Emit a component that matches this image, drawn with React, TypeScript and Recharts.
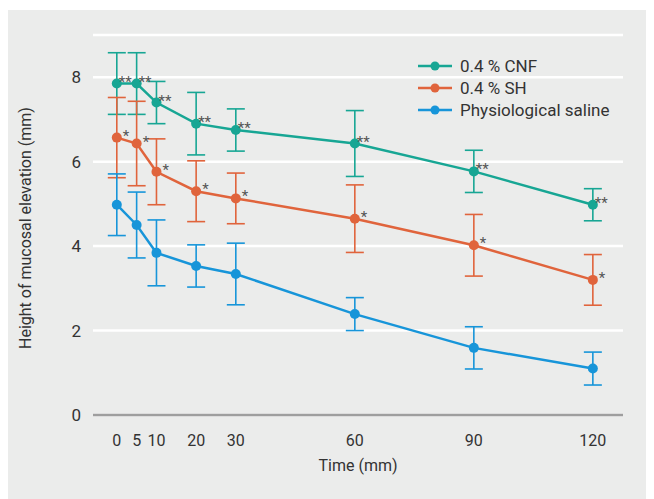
import { LineChart, Line, XAxis, YAxis, CartesianGrid, ErrorBar, Legend, LabelList } from 'recharts';

// time points (x axis)
const times = [0, 5, 10, 20, 30, 60, 90, 120];
const xTicks = [0, 5, 10, 20, 30, 60, 90, 120];
const yTicks = [0, 2, 4, 6, 8];

// means and error (SD) per group
const cnf = [7.85, 7.85, 7.4, 6.9, 6.75, 6.43, 5.77, 4.98];
const cnfErr = [0.73, 0.73, 0.5, 0.74, 0.5, 0.78, 0.5, 0.38];
const sh = [6.57, 6.43, 5.76, 5.3, 5.13, 4.65, 4.02, 3.2];
const shErr = [0.95, 1.0, 0.78, 0.72, 0.6, 0.8, 0.73, 0.6];
const saline = [4.98, 4.5, 3.84, 3.53, 3.34, 2.39, 1.59, 1.1];
const salineErr = [0.73, 0.78, 0.78, 0.5, 0.73, 0.39, 0.5, 0.39];

const cnfSig = ['**', '**', '**', '**', '**', '**', '**', '**'];
const shSig = ['*', '*', '*', '*', '*', '*', '*', '*'];

const series = [
  { key: 'cnf', name: '0.4 % CNF', color: '#17a694' },
  { key: 'sh', name: '0.4 % SH', color: '#e0643c' },
  { key: 'saline', name: 'Physiological saline', color: '#1795d9' },
];

const data = times.map((t, i) => ({
  time: t,
  cnf: cnf[i],
  cnfErr: cnfErr[i],
  cnfSig: cnfSig[i],
  sh: sh[i],
  shErr: shErr[i],
  shSig: shSig[i],
  saline: saline[i],
  salineErr: salineErr[i],
}));

const FONT = 'Roboto, "Noto Sans", sans-serif';

const SigLabel = (props: any) => {
  const { x, y, value } = props;
  if (!value) return null;
  const dx = value === '**' ? 2 : 6;
  return (
    <text x={x + dx} y={y + 3} fill="#555" fontSize={15} fontFamily={FONT} textAnchor="start">
      {value}
    </text>
  );
};

const LegendContent = () => (
  <div style={{ fontFamily: FONT, fontSize: 17, color: '#333', lineHeight: '22px' }}>
    {series.map((s) => (
      <div key={s.key} style={{ display: 'flex', alignItems: 'center' }}>
        <svg width={36} height={22}>
          <line x1={0} y1={11} x2={34} y2={11} stroke={s.color} strokeWidth={2.5} />
          <circle cx={17} cy={11} r={4.5} fill={s.color} />
        </svg>
        <span style={{ marginLeft: 6 }}>{s.name}</span>
      </div>
    ))}
  </div>
);

export default function App() {
  return (
    <div style={{ width: 646, height: 489, marginTop: 2, background: '#ebeceb' }}>
      <LineChart width={646} height={489} data={data} margin={{ top: 25, right: 31, left: 25, bottom: 30 }}>
        <CartesianGrid horizontal vertical={false} stroke="#ffffff" strokeWidth={2.5} />
        <XAxis
          dataKey="time"
          type="number"
          domain={[-6, 127.6]}
          ticks={xTicks}
          interval={0}
          tickLine={false}
          axisLine={{ stroke: '#9e9e9e', strokeWidth: 2.5 }}
          tick={{ fill: '#333', fontSize: 16, fontFamily: FONT }}
          tickMargin={14}
          height={54}
          label={{ value: 'Time (mm)', position: 'insideBottom', offset: -2, fill: '#333', fontSize: 16, fontFamily: FONT }}
        />
        <YAxis
          domain={[0, 9]}
          ticks={yTicks}
          tickLine={false}
          axisLine={false}
          tick={{ fill: '#333', fontSize: 17, fontFamily: FONT }}
          tickMargin={6}
          width={60}
          label={{ value: 'Height of mucosal elevation (mm)', angle: -90, position: 'insideLeft', offset: -8, dy: 124, fill: '#333', fontSize: 16, fontFamily: FONT }}
        />
        <Legend
          layout="vertical"
          verticalAlign="middle"
          align="center"
          content={<LegendContent />}
          wrapperStyle={{ left: 410, top: 45, width: 230 }}
        />
        <Line dataKey="cnf" name="0.4 % CNF" stroke="#17a694" strokeWidth={2.5} dot={{ r: 5, fill: '#17a694', stroke: 'none' }} isAnimationActive={false}>
          <ErrorBar dataKey="cnfErr" direction="y" width={9} stroke="#17a694" strokeWidth={1.6} />
          <LabelList dataKey="cnfSig" content={<SigLabel />} />
        </Line>
        <Line dataKey="sh" name="0.4 % SH" stroke="#e0643c" strokeWidth={2.5} dot={{ r: 5, fill: '#e0643c', stroke: 'none' }} isAnimationActive={false}>
          <ErrorBar dataKey="shErr" direction="y" width={9} stroke="#e0643c" strokeWidth={1.6} />
          <LabelList dataKey="shSig" content={<SigLabel />} />
        </Line>
        <Line dataKey="saline" name="Physiological saline" stroke="#1795d9" strokeWidth={2.5} dot={{ r: 5, fill: '#1795d9', stroke: 'none' }} isAnimationActive={false}>
          <ErrorBar dataKey="salineErr" direction="y" width={9} stroke="#1795d9" strokeWidth={1.6} />
        </Line>
      </LineChart>
    </div>
  );
}
